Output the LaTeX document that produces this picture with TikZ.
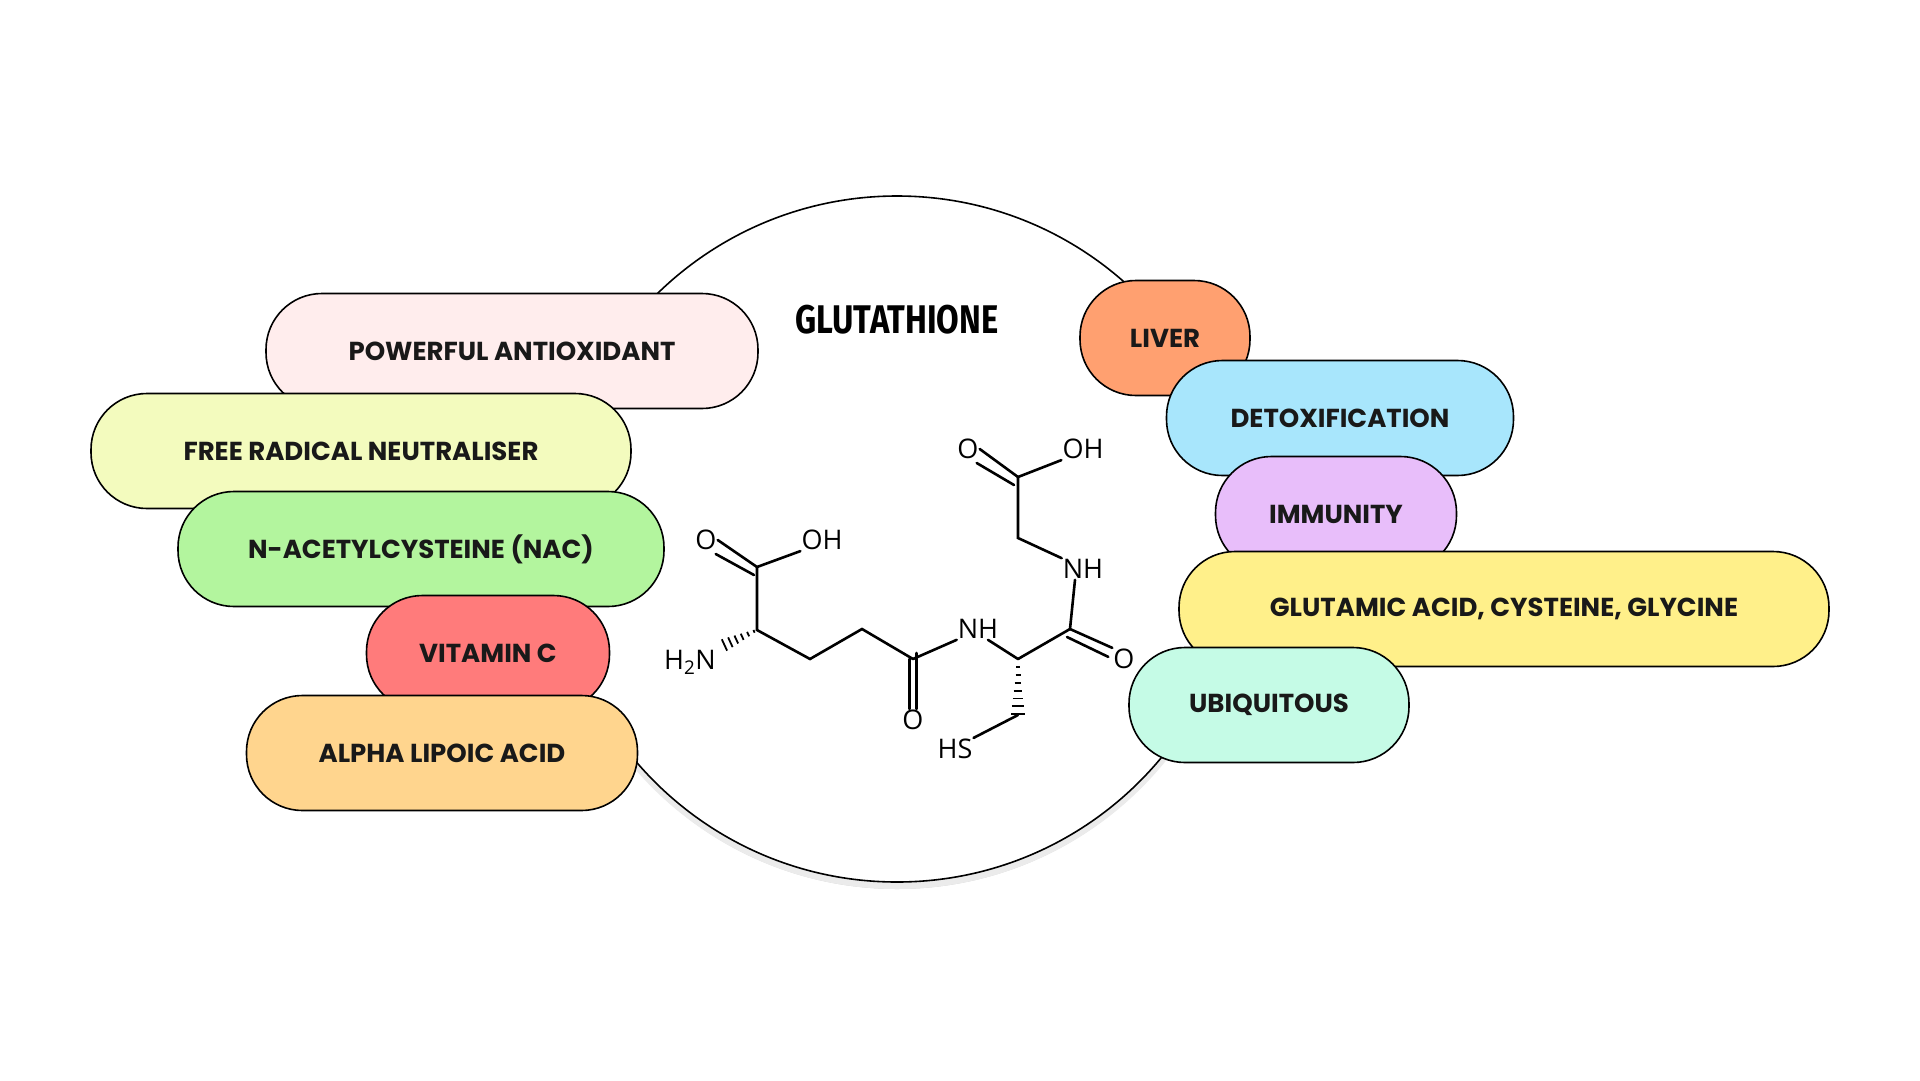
\documentclass[tikz,border=0pt]{standalone}
\usepackage{fontspec}
\setmainfont{Poppins}
\newfontfamily\molfont{Open Sans}
\newfontfamily\titlefont{Fira Sans}
\usetikzlibrary{calc}
\begin{document}
\begin{tikzpicture}[x=1pt,y=-1pt,
  pill/.style={draw=black,line width=1.6pt,rounded corners=56pt,font=\fontsize{26}{28}\selectfont\bfseries,text=black!90},
  bond/.style={line width=2.6pt,line cap=round},
  atom/.style={font=\molfont\fontsize{27}{30}\selectfont,inner sep=1pt}]
\useasboundingbox (0,0) rectangle (1920,1080);
\fill[white] (0,0) rectangle (1920,1080);
% circle
\fill[black!18] (897,545) circle (344);
\fill[black!8] (897,543) circle (346);
\node[circle,draw=black,line width=1.6pt,fill=white,minimum size=686pt,inner sep=0] (circ) at (897,539) {};
\node (title) at (897,320) {\titlefont\bfseries\fontsize{40}{44}\selectfont\scalebox{0.82}[1]{GLUTATHIONE}};
% pills left
\node[pill,fill=red!7,minimum width=492pt,minimum height=115pt] (p1) at (512,351) {POWERFUL ANTIOXIDANT};
\node[pill,fill={rgb,255:red,243;green,251;blue,190},minimum width=540pt,minimum height=115pt] (p2) at (361,451) {FREE RADICAL NEUTRALISER};
\node[pill,fill={rgb,255:red,179;green,245;blue,158},minimum width=486pt,minimum height=115pt] (p3) at (421,549) {N-ACETYLCYSTEINE (NAC)};
\node[pill,fill={rgb,255:red,255;green,123;blue,123},minimum width=243pt,minimum height=115pt] (p4) at (488,653) {VITAMIN C};
\node[pill,fill={rgb,255:red,255;green,213;blue,142},minimum width=391pt,minimum height=115pt] (p5) at (442,753) {ALPHA LIPOIC ACID};
% pills right
\node[pill,fill={rgb,255:red,255;green,160;blue,112},minimum width=170pt,minimum height=115pt] (q1) at (1165,338) {LIVER};
\node[pill,fill={rgb,255:red,168;green,230;blue,252},minimum width=347pt,minimum height=115pt] (q2) at (1340,418) {DETOXIFICATION};
\node[pill,fill={rgb,255:red,232;green,190;blue,250},minimum width=241pt,minimum height=115pt] (q3) at (1336,514) {IMMUNITY};
\node[pill,fill={rgb,255:red,255;green,240;blue,138},minimum width=650pt,minimum height=115pt] (q4) at (1504,609) {GLUTAMIC ACID, CYSTEINE, GLYCINE};
\node[pill,fill={rgb,255:red,197;green,251;blue,230},minimum width=280pt,minimum height=115pt] (q5) at (1269,705) {UBIQUITOUS};
% molecule
\coordinate (c1) at (757,567);
\coordinate (ca) at (757,630);
\coordinate (cb) at (810,659);
\coordinate (cg) at (862,629);
\coordinate (cam) at (913,659);
\coordinate (ccys) at (1018,659);
\coordinate (cco) at (1070,629);
\coordinate (cgly) at (1018,538);
\coordinate (cgc) at (1018,477);
\coordinate (cs) at (1018,715);
\node[atom] (o1) at (706,540) {O};
\node[atom] (oh1) at (822,540) {OH};
\node[atom] (h2n) at (690,662) {H\textsubscript{2}N};
\node[atom] (o2) at (913,720) {O};
\node[atom] (nh1) at (978,629) {NH};
\node[atom] (o3) at (1124,659) {O};
\node[atom] (nh2) at (1083,569) {NH};
\node[atom] (o4) at (968,449) {O};
\node[atom] (oh2) at (1083,449) {OH};
\node[atom] (hs) at (955,749) {HS};
\draw[bond] (c1) -- (oh1.south west);
\draw[bond] (c1) -- (o1.east);
\draw[bond] ([shift={(-3,8)}]c1) -- ([shift={(-2,14)}]o1.east);
\draw[bond] (c1) -- (ca) -- (cb) -- (cg) -- (cam);
\draw[bond] ([xshift=-3.5pt]cam) -- ([xshift=-3.5pt]o2.north);
\draw[bond] ([xshift=3.5pt,yshift=6pt]cam) -- ([xshift=3.5pt]o2.north);
\draw[bond] (cam) -- (nh1.south west);
\draw[bond] ([xshift=10pt]nh1.south) -- (ccys);
\draw[bond] (ccys) -- (cco);
\draw[bond] (cco) -- (o3.north west);
\draw[bond] ([shift={(-3,8)}]cco) -- ([shift={(-4,9)}]o3.north west);
\draw[bond] (cco) -- ([xshift=-8pt]nh2.south);
\draw[bond] (nh2.north west) -- (cgly) -- (cgc);
\draw[bond] (cgc) -- (oh2.south west);
\draw[bond] (cgc) -- (o4.east);
\draw[bond] ([shift={(-4,8)}]cgc) -- ([shift={(-3,14)}]o4.east);
\draw[bond] (cs) -- (hs.north east);
% hashed bonds
\foreach \t in {0.08,0.24,0.40,0.56,0.72,0.88}{
  \pgfmathsetmacro\px{757-37*\t}\pgfmathsetmacro\py{630+17*\t}
  \pgfmathsetmacro\h{1+6*\t}
  \draw[line width=1.8pt] (\px-0.42*\h,\py-0.91*\h) -- (\px+0.42*\h,\py+0.91*\h);
}
\foreach \t in {0.1,0.25,0.4,0.55,0.7,0.85,1.0}{
  \pgfmathsetmacro\py{662+52*\t}\pgfmathsetmacro\h{1+6*\t}
  \draw[line width=1.8pt] (1018-\h,\py) -- (1018+\h,\py);
}
\end{tikzpicture}
\end{document}
